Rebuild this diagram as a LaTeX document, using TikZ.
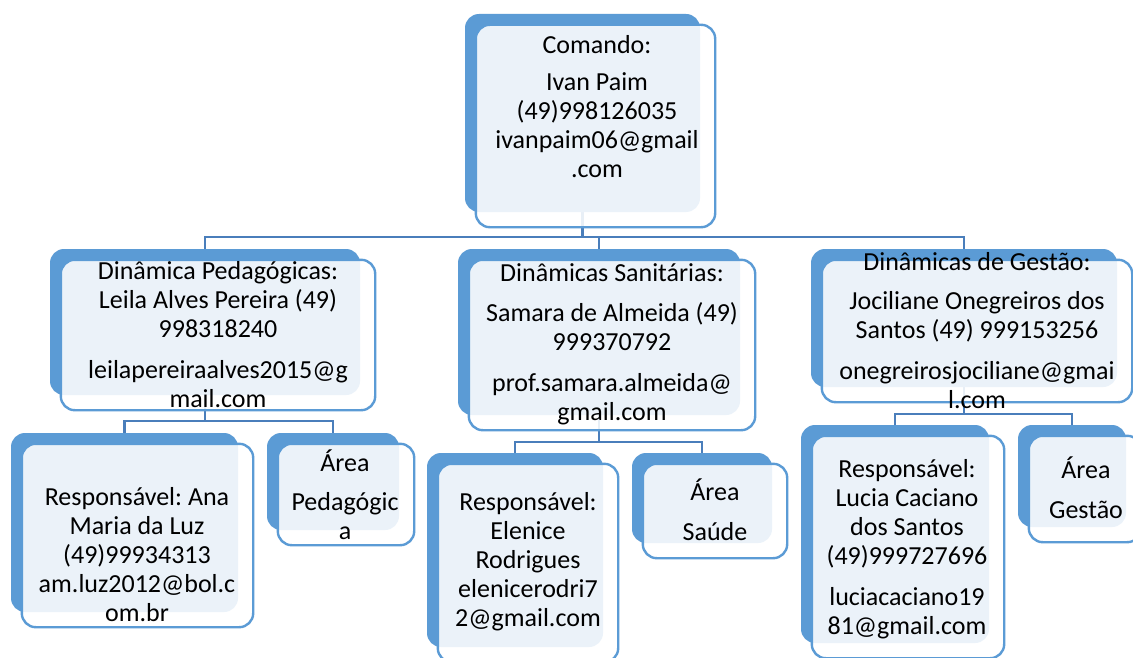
\documentclass[tikz,border=0pt]{standalone}
\usepackage{fontspec}
\setmainfont{Carlito}
\frenchspacing
\usetikzlibrary{fit,calc,backgrounds}

\definecolor{boxblue}{HTML}{5B9BD5}
\definecolor{linkblue}{HTML}{4A7EBB}

% back block plus the framed card in front of it
\newcommand{\orgbox}[3]{%
  \node[backbox, fit={#2 #3}] (#1-b) {};
  \path[frontbox] ($(#1-b.north west)+(11,11)$) rectangle ($(#1-b.south east)+(15,15)$);
}

\begin{document}
\begin{tikzpicture}[x=1pt, y=-1pt,
    backbox/.style={fill=boxblue, rounded corners=14pt, inner sep=0pt},
    frontbox/.style={draw=boxblue, line width=2.4pt, fill=white, fill opacity=0.88, rounded corners=14pt},
    link/.style={draw=linkblue, line width=2.2pt},
    txt/.style={align=center, inner sep=0pt, font=\fontsize{26}{29}\selectfont}]

    \clip (0,0) rectangle (1133,658);

    \orgbox{cmd}{(465,14)}{(700,212)}
    \orgbox{ped}{(50,249)}{(360,395)}
    \orgbox{san}{(458,249)}{(740,415)}
    \orgbox{ges}{(811,249)}{(1117,387)}
    \orgbox{ana}{(11,433)}{(238,612)}
    \orgbox{apd}{(267,433)}{(399,530)}
    \orgbox{ele}{(427,453)}{(603,647)}
    \orgbox{sau}{(632,453)}{(772,543)}
    \orgbox{luc}{(801,425)}{(989,643)}
    \orgbox{gst}{(1018,425)}{(1126,527)}

    \node[txt] (cmd) at (597,107) {Comando:\\[8pt] Ivan Paim\\ (49)998126035\\ ivanpaim06@gmail\\ .com};
    \node[txt] (ped) at (218,335) {Dinâmica Pedagógicas:\\ Leila Alves Pereira (49)\\ 998318240\\[12pt] leilapereiraalves2015@g\\ mail.com};
    \node[txt] (san) at (612,344) {Dinâmicas Sanitárias:\\[11pt] Samara de Almeida (49)\\ 999370792\\[12pt] prof.samara.almeida@\\ gmail.com};
    \node[txt] (ges) at (977,331) {Dinâmicas de Gestão:\\[10pt] Jociliane Onegreiros dos\\ Santos (49) 999153256\\[12pt] onegreirosjociliane@gmai\\ l.com};
    \node[txt] (ana) at (137,555) {Responsável: Ana\\ Maria da Luz\\ (49)99934313\\ am.luz2012@bol.c\\ om.br};
    \node[txt] (apd) at (345,495) {Área\\[10pt] Pedagógic\\ a};
    \node[txt] (ele) at (528,562) {Responsável:\\ Elenice\\ Rodrigues\\ elenicerodri7\\ 2@gmail.com};
    \node[txt] (sau) at (715,510) {Área\\[11pt] Saúde};
    \node[txt] (luc) at (907,549) {Responsável:\\ Lucia Caciano\\ dos Santos\\ (49)999727696\\[12pt] luciacaciano19\\ 81@gmail.com};
    \node[txt] (gst) at (1086,488) {Área\\[11pt] Gestão};

    \begin{scope}[on background layer]
        \fill[white] (0,0) rectangle (1133,658);
        \coordinate (bus1) at (0,237);
        \coordinate (bus2) at (0,421);
        \coordinate (bus3) at (0,442);
        \coordinate (bus4) at (0,414);
        \draw[link] (cmd-b.center) |- (ped-b.north |- bus1) -- (ped-b.north);
        \draw[link] (cmd-b.center) |- (ges-b.north |- bus1) -- (ges-b.north);
        \draw[link] (san-b.north |- bus1) -- (san-b.north);
        \draw[link] (ped-b.center) |- (ana-b.north |- bus2) -- (ana-b.north);
        \draw[link] (ped-b.center) |- (apd-b.north |- bus2) -- (apd-b.north);
        \draw[link] (san-b.center) |- (ele-b.north |- bus3) -- (ele-b.north);
        \draw[link] (san-b.center) |- (sau-b.north |- bus3) -- (sau-b.north);
        \draw[link] (ges-b.center) |- (luc-b.north |- bus4) -- (luc-b.north);
        \draw[link] (ges-b.center) |- (gst-b.north |- bus4) -- (gst-b.north);
    \end{scope}

\end{tikzpicture}
\end{document}
